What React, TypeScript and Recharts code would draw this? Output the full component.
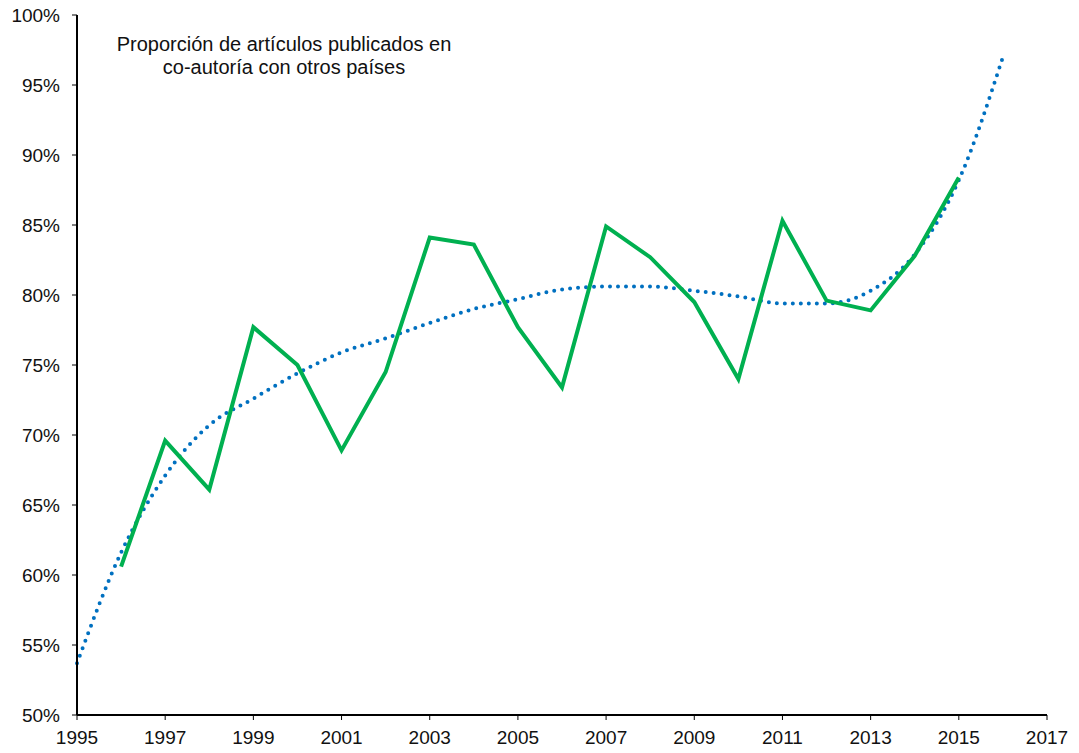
import React from 'react';
import { LineChart, Line, XAxis, YAxis } from 'recharts';

const years = [1995, 1996, 1997, 1998, 1999, 2000, 2001, 2002, 2003, 2004, 2005, 2006, 2007, 2008, 2009, 2010, 2011, 2012, 2013, 2014, 2015, 2016];
const shareValues: (number | null)[] = [null, 60.6, 69.6, 66.1, 77.7, 75.0, 68.9, 74.5, 84.1, 83.6, 77.7, 73.4, 84.9, 82.7, 79.5, 74.0, 85.3, 79.6, 78.9, 82.8, 88.4, null];
const trendValues = [53.7, 61.6, 67.1, 70.7, 72.6, 74.4, 75.9, 76.9, 78.0, 79.0, 79.7, 80.4, 80.6, 80.6, 80.3, 79.9, 79.4, 79.4, 80.3, 82.9, 88.2, 97.0];
const xTicks = [1995, 1997, 1999, 2001, 2003, 2005, 2007, 2009, 2011, 2013, 2015, 2017];
const yTicks = [50, 55, 60, 65, 70, 75, 80, 85, 90, 95, 100];
const titleLines = ['Proporción de artículos publicados en', 'co-autoría con otros países'];

const data = years.map((y, i) => ({ year: y, share: shareValues[i], trend: trendValues[i] }));

const FONT = '"Liberation Sans", Arial, Helvetica, sans-serif';

export default function App() {
  return (
    <div style={{ position: 'absolute', left: 0, top: 0, width: 1079, height: 753, fontFamily: FONT }}>
      <LineChart width={1079} height={753} data={data} margin={{ top: 15, right: 32, bottom: 0, left: 0 }}>
        <XAxis
          dataKey="year"
          type="number"
          domain={[1995, 2017]}
          ticks={xTicks}
          interval={0}
          height={38}
          tickSize={5}
          tickMargin={11}
          axisLine={{ stroke: '#000', strokeWidth: 2 }}
          tickLine={{ stroke: '#000', strokeWidth: 1 }}
          tick={{ fill: '#111', fontSize: 19, fontFamily: FONT }}
        />
        <YAxis
          type="number"
          domain={[50, 100]}
          ticks={yTicks}
          interval={0}
          width={77}
          tickSize={5}
          tickMargin={12}
          tickFormatter={(v: number) => `${v}%`}
          axisLine={{ stroke: '#000', strokeWidth: 2 }}
          tickLine={{ stroke: '#000', strokeWidth: 1 }}
          tick={{ fill: '#111', fontSize: 19, fontFamily: FONT }}
        />
        <Line
          dataKey="trend"
          type="monotone"
          stroke="#0070C0"
          strokeWidth={4}
          strokeDasharray="0 8"
          strokeLinecap="round"
          dot={false}
          activeDot={false}
          isAnimationActive={false}
        />
        <Line
          dataKey="share"
          type="linear"
          stroke="#00B050"
          strokeWidth={4}
          strokeLinejoin="miter"
          dot={false}
          activeDot={false}
          isAnimationActive={false}
        />
      </LineChart>
      <div
        style={{
          position: 'absolute',
          left: 84,
          top: 33,
          width: 400,
          textAlign: 'center',
          fontSize: 20,
          lineHeight: '23px',
          color: '#111',
        }}
      >
        {titleLines.map((t) => (
          <div key={t}>{t}</div>
        ))}
      </div>
    </div>
  );
}
